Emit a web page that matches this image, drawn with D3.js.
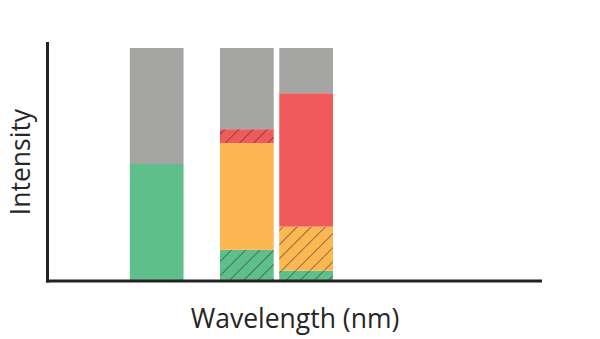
<!DOCTYPE html>
<html>
<head>
<meta charset="utf-8">
<script src="https://cdn.jsdelivr.net/npm/d3@7"></script>
<style>
  html, body { margin: 0; padding: 0; background: #fff; }
  svg { display: block; }
  text { font-family: "Open Sans", "Noto Sans", sans-serif; fill: #262626; }
</style>
</head>
<body>
<svg id="chart" width="600" height="339"></svg>
<script>
// Spectral components of three light sources (relative intensity, 0–100)
const sources = ["A", "B", "C"];
const centers = [468, 541, 589];          // band centre, nm
const bandWidth = 43.5;                    // band width, nm
const layers = ["green", "orange", "red", "gray"];
const greenValues  = [50, 13, 4];
const orangeValues = [0, 46, 19];
const redValues    = [0, 6, 57.5];
const grayValues   = [50, 35, 19.5];
const greenHatched  = [false, true, true];
const orangeHatched = [false, false, true];
const redHatched    = [false, true, false];

const colors = { green: "#5fbf8a", orange: "#fdb752", red: "#f05a5a", gray: "#a5a5a3" };

const svg = d3.select("#chart");
const margin = { left: 48, right: 58, top: 48, bottom: 59 };
const W = 600, H = 339;

const x = d3.scaleLinear().domain([380, 780]).range([margin.left, W - margin.right]);
const y = d3.scaleLinear().domain([0, 100]).range([H - margin.bottom, margin.top]);

// diagonal hatch pattern
const defs = svg.append("defs");
defs.append("pattern")
  .attr("id", "hatch")
  .attr("patternUnits", "userSpaceOnUse")
  .attr("width", 10).attr("height", 10)
  .attr("patternTransform", "rotate(45)")
  .append("line")
  .attr("x1", 0).attr("y1", 0).attr("x2", 0).attr("y2", 10)
  .attr("stroke", "#2a2a2a").attr("stroke-opacity", 0.65).attr("stroke-width", 1.6);

const rows = sources.map((s, i) => ({
  source: s, center: centers[i],
  green: greenValues[i], orange: orangeValues[i], red: redValues[i], gray: grayValues[i],
  hatch: { green: greenHatched[i], orange: orangeHatched[i], red: redHatched[i], gray: false }
}));

const stack = d3.stack().keys(layers)(rows);

const g = svg.append("g");
stack.forEach(layer => {
  layer.forEach(seg => {
    const d = seg.data;
    if (seg[1] - seg[0] <= 0) return;
    const x0 = x(d.center - bandWidth / 2), x1 = x(d.center + bandWidth / 2);
    const rect = { x: x0, y: y(seg[1]), w: x1 - x0, h: y(seg[0]) - y(seg[1]) };
    g.append("rect")
      .attr("x", rect.x).attr("y", rect.y).attr("width", rect.w).attr("height", rect.h)
      .attr("fill", colors[layer.key]);
    if (d.hatch[layer.key]) {
      g.append("rect")
        .attr("x", rect.x).attr("y", rect.y).attr("width", rect.w).attr("height", rect.h)
        .attr("fill", "url(#hatch)");
    }
  });
});

// axes drawn as plain lines, no ticks
const axisColor = "#222";
const xAxis = d3.axisBottom(x).tickValues([]).tickSizeOuter(0);
const yAxis = d3.axisLeft(y).tickValues([]).tickSizeOuter(0);

svg.append("g")
  .attr("transform", `translate(0,${y(0) + 1})`)
  .call(xAxis)
  .call(s => s.select(".domain")
    .attr("stroke", axisColor).attr("stroke-width", 3)
    .attr("d", `M${x.range()[0] - 2},0H${x.range()[1]}`));

svg.append("g")
  .attr("transform", `translate(${x.range()[0] - 0.5},0)`)
  .call(yAxis)
  .call(s => s.select(".domain")
    .attr("stroke", axisColor).attr("stroke-width", 3)
    .attr("d", `M0,${y(100) - 6}V${y(0) + 2.5}`));

svg.append("text")
  .attr("x", 295).attr("y", 328)
  .attr("text-anchor", "middle")
  .attr("font-size", 26.5)
  .text("Wavelength (nm)");

svg.append("text")
  .attr("transform", "translate(30,162) rotate(-90)")
  .attr("text-anchor", "middle")
  .attr("font-size", 26.5)
  .text("Intensity");
</script>
</body>
</html>
